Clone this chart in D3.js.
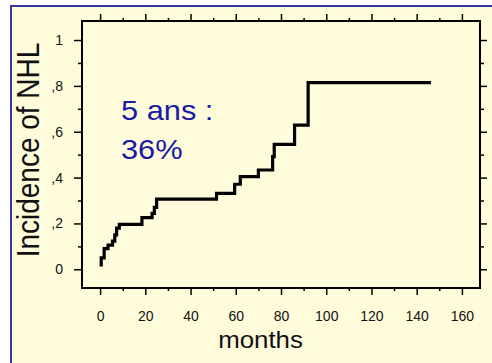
<!DOCTYPE html>
<html><head><meta charset="utf-8">
<script src="https://cdn.jsdelivr.net/npm/d3@7"></script>
<style>
html,body{margin:0;padding:0;background:#fff;}
svg{display:block;}
text{font-family:"Liberation Sans",Arial,sans-serif;}
</style></head><body>
<svg id="c" width="492" height="363"></svg>
<script>
// Data
const startPoint = [0.5, 0.012];
const eventMonths = [0.5, 1.8, 3.5, 5.5, 6.5, 7.3, 8.5, 18.5, 23, 24, 25, 51.5, 59.5, 62, 70, 76.3, 77, 86, 92];
const incidence  = [0.05, 0.09, 0.105, 0.123, 0.15, 0.18, 0.196, 0.225, 0.244, 0.27, 0.306, 0.331, 0.371, 0.404, 0.433, 0.491, 0.545, 0.629, 0.814];
const lastMonth = 146.3;
const xTicks = [0, 20, 40, 60, 80, 100, 120, 140, 160];
const xMinor = [10, 30, 50, 70, 90, 110, 130, 150];
const yTicks = [0, 0.2, 0.4, 0.6, 0.8, 1];
const yTickLabels = ["0", ",2", ",4", ",6", ",8", "1"];
const yMinor = [0.1, 0.3, 0.5, 0.7, 0.9];
const annotation = ["5 ans :", "36%"];

const svg = d3.select("#c");
const sx = 1.1;

svg.append("rect").attr("x",11).attr("y",6).attr("width",500).attr("height",400)
  .attr("fill","#fffcdc").attr("stroke","#3535a8").attr("stroke-width",2);

const x = d3.scaleLinear().domain([-8, 168]).range([82, 480]);
const y = d3.scaleLinear().domain([-0.0816, 1.083]).range([288, 21]);

// frame
svg.append("rect").attr("x",x(-8)).attr("y",y(1.083)).attr("width",x(168)-x(-8)).attr("height",y(-0.0816)-y(1.083))
  .attr("fill","none").attr("stroke","#000").attr("stroke-width",2);

function styleAxis(g){ g.select(".domain").remove(); g.selectAll("line").attr("stroke","#000").attr("stroke-width",1.5); }

// bottom axis
const gb = svg.append("g").attr("transform",`translate(0,${y(-0.0816)})`)
  .call(d3.axisBottom(x).tickValues(xTicks).tickSize(7).tickPadding(16).tickFormat(d3.format("d")));
styleAxis(gb);
gb.selectAll("text").attr("font-size",14).attr("fill","#111");
const gbm = svg.append("g").attr("transform",`translate(0,${y(-0.0816)})`)
  .call(d3.axisBottom(x).tickValues(xMinor).tickSize(3).tickFormat(""));
styleAxis(gbm);
// top axis
const gt = svg.append("g").attr("transform",`translate(0,${y(1.083)})`)
  .call(d3.axisTop(x).tickValues(xTicks).tickSize(7).tickFormat(""));
styleAxis(gt);
const gtm = svg.append("g").attr("transform",`translate(0,${y(1.083)})`)
  .call(d3.axisTop(x).tickValues(xMinor).tickSize(3).tickFormat(""));
styleAxis(gtm);
// left axis
const gl = svg.append("g").attr("transform",`translate(${x(-8)},0)`)
  .call(d3.axisLeft(y).tickValues(yTicks).tickSize(8).tickPadding(11).tickFormat((d,i)=>yTickLabels[i]));
styleAxis(gl);
gl.selectAll("text").attr("font-size",14).attr("fill","#111");
const glm = svg.append("g").attr("transform",`translate(${x(-8)},0)`)
  .call(d3.axisLeft(y).tickValues(yMinor).tickSize(4).tickFormat(""));
styleAxis(glm);
// right axis
const gr = svg.append("g").attr("transform",`translate(${x(168)},0)`)
  .call(d3.axisRight(y).tickValues(yTicks).tickSize(7).tickFormat(""));
styleAxis(gr);
const grm = svg.append("g").attr("transform",`translate(${x(168)},0)`)
  .call(d3.axisRight(y).tickValues(yMinor).tickSize(4).tickFormat(""));
styleAxis(grm);

// step curve
const pts = [startPoint];
eventMonths.forEach((m,i)=>pts.push([m, incidence[i]]));
pts.push([lastMonth, incidence[incidence.length-1]]);
const line = d3.line().x(d=>x(d[0])).y(d=>y(d[1])).curve(d3.curveStepAfter);
svg.append("path").attr("d", line(pts)).attr("fill","none").attr("stroke","#000").attr("stroke-width",3.2);

// axis titles
svg.append("text").attr("transform",`translate(260.5,348) scale(${sx},1)`).attr("text-anchor","middle")
  .attr("font-size",23.5).attr("fill","#111").text("months");
svg.append("text").attr("transform",`translate(39,150) scale(${sx},1) rotate(-90)`).attr("text-anchor","middle")
  .attr("font-size",28).attr("fill","#111").text("Incidence of NHL");

// annotation
annotation.forEach((t,i)=>{
  svg.append("text").attr("transform",`translate(121,${120+i*39}) scale(1.08,1)`)
    .attr("font-size",28.5).attr("fill","#1a1aa6").text(t);
});
</script>
</body></html>
